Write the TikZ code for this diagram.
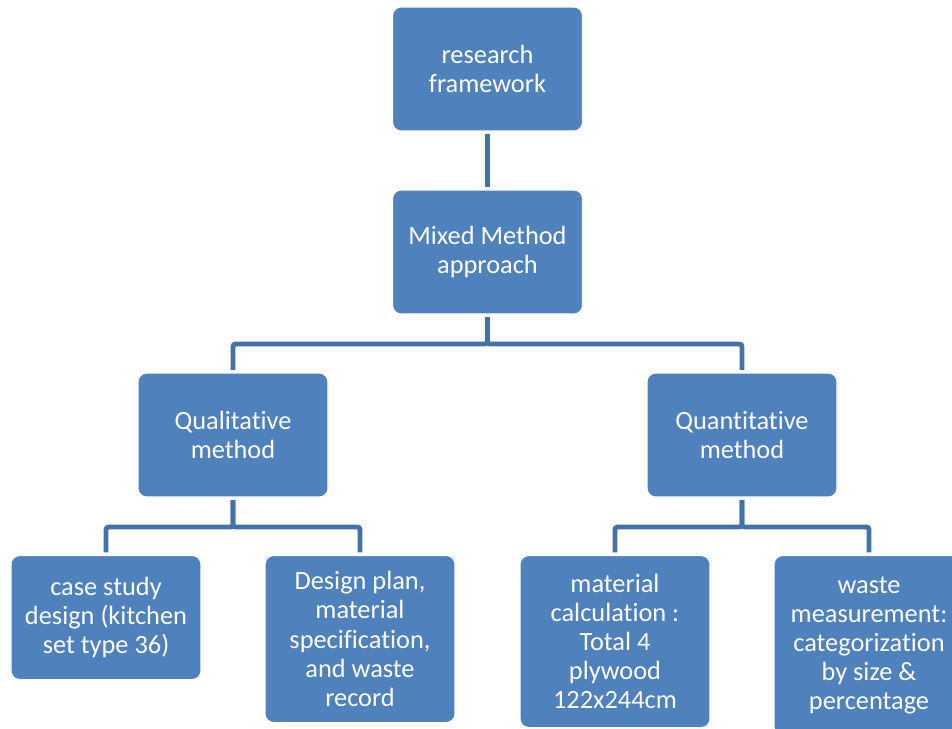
\documentclass[tikz,border=0pt]{standalone}
\usepackage{fontspec}
\setmainfont{Carlito}[RawFeature={-liga;-clig;-rlig;-dlig}]
\usepackage{tikz}
\usetikzlibrary{positioning,calc}
\definecolor{OfficeBlue}{RGB}{79,129,189}
\definecolor{LinkBlue}{RGB}{68,114,168}
\tikzset{
	cell/.style={draw=white,line width=0.6pt,fill=OfficeBlue,rounded corners=5pt,
		text=white,align=center,minimum width=3.8cm,minimum height=2.48cm,inner sep=2pt,
		font=\fontsize{15}{16.6}\selectfont},
	link/.style={draw=LinkBlue,line width=2.8pt,rounded corners=1.5pt,
		shorten <=1.5pt,shorten >=1.5pt},
}

\begin{document}
\begin{tikzpicture}
					\useasboundingbox (0,0) rectangle (19.04,-14.58);
					\node[cell] (frame) at (9.75,-1.38) {research\\framework};
					\node[cell] (mix) at (9.75,-5.04) {Mixed Method\\approach};
					\node[cell] (qual) at (4.66,-8.70) {Qualitative\\method};
					\node[cell] (quant) at (14.84,-8.70) {Quantitative\\method};
					\node[cell,anchor=north] (case) at (2.12,-11.10) {case study\\design (kitchen\\set type 36)};
					\node[cell,anchor=north,minimum height=3.34cm] (plan) at (7.20,-11.10) {Design plan,\\material\\specification,\\and waste\\record};
					\node[cell,anchor=north,minimum height=3.44cm] (calc) at (12.30,-11.10) {material\\calculation :\\Total 4\\plywood\\122x244cm};
					\node[cell,anchor=north,minimum height=3.6cm] (waste) at (17.38,-11.10) {waste\\measurement:\\categorization\\by size \&\\percentage};
					\draw[link] (frame) -- (mix);
					\foreach \a/\b in {mix/qual,mix/quant,qual/case,qual/plan,quant/calc,quant/waste}
					\draw[link] (\a.south) -- ++(0,-0.59) -| (\b.north);
				\end{tikzpicture}
\end{document}
